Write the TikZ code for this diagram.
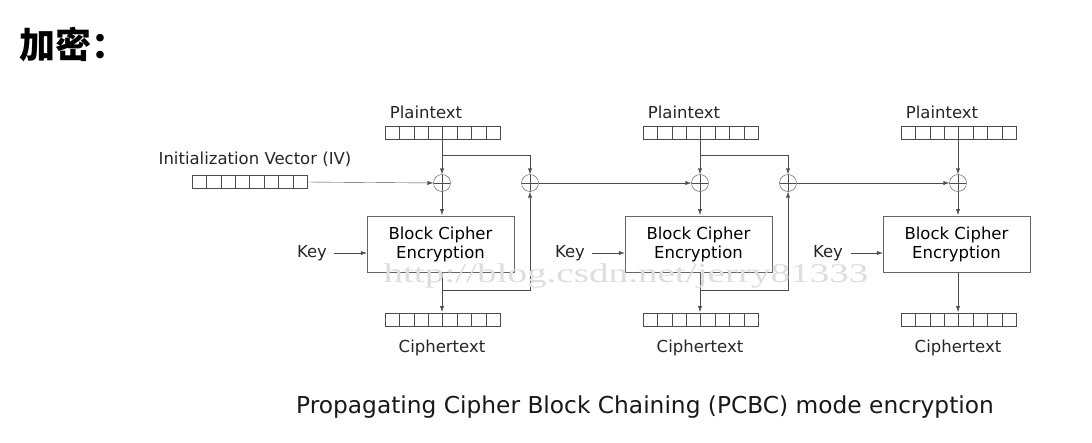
\documentclass[tikz,border=0pt]{standalone}
\usepackage{fontspec}
\setmainfont{DejaVu Sans}
\newfontfamily\cjk{Noto Sans CJK SC}
\newfontfamily\wm{Liberation Serif}
\usetikzlibrary{arrows.meta}
\begin{document}
\begin{tikzpicture}[x=1pt,y=-1pt,
  lbl/.style={font=\fontsize{16.5}{18}\selectfont, text=black!85},
  enc/.style={draw=black!60, minimum width=147pt, minimum height=56pt, align=center, font=\fontsize{16.5}{19}\selectfont, inner sep=0pt},
  xor/.style={circle, draw=black!70, minimum size=17pt, inner sep=0pt, path picture={\draw[black!70] (path picture bounding box.north)--(path picture bounding box.south) (path picture bounding box.west)--(path picture bounding box.east);}},
  ar/.style={draw=black!70, -{Latex[length=6pt,width=4pt]}},
  ln/.style={draw=black!70}]
\useasboundingbox (0,0) rectangle (1092,442);
\fill[white] (0,0) rectangle (1092,442);
\newcommand{\cells}[3]{\foreach \i in {0,...,7}{\draw[black!70] (#1+\i*14.4,#2-6.5) rectangle ++(14.4,13);}\coordinate (#3) at (#1+57.6,#2);}
\node[font=\cjk\bfseries\fontsize{36}{38}\selectfont, anchor=west] (title) at (16,45) {加密：};
\node[font=\fontsize{23.3}{25}\selectfont, text=black!90] (cap) at (645,407) {Propagating Cipher Block Chaining (PCBC) mode encryption};
\node[lbl] (ivl) at (255,159) {Initialization Vector (IV)};
\cells{192}{182}{iv}
\foreach \k/\X in {1/442,2/700,3/958}{
  \node[lbl] (pl\k) at (\X-16,112) {Plaintext};
  \cells{\X-57}{133}{pb\k}
  \node[xor] (x\k) at (\X,183) {};
  \node[enc] (e\k) at (\X-1.5,244) {Block Cipher\\Encryption};
  \cells{\X-57}{320}{cb\k}
  \node[lbl] (cl\k) at (\X,348) {Ciphertext};
  \node[lbl] (k\k) at (\X-130,253) {Key};
  \draw[ar] ([xshift=4pt]k\k.east) -- (e\k.west |- k\k.east);
  \draw[ar] (\X,140) -- (x\k.north);
  \draw[ar] (x\k.south) -- (\X,215);
  \draw[ar] (\X,273) -- (\X,312);
}
\foreach \k/\X in {1/530,2/788}{
  \node[xor] (y\k) at (\X,183) {};
}
\draw[ar] (307,182) -- (x1.west);
\foreach \k/\X/\P in {1/530/442,2/788/700}{
  \draw[ar] (\P,155) -- (\X,155) -- (y\k.north);
  \draw[ar] (\P,290) -- (\X,290) -- (y\k.south);
}
\draw[ar] (y1.east) -- (x2.west);
\draw[ar] (y2.east) -- (x3.west);
\node[font=\wm\fontsize{27}{28}\selectfont, text=black!13, xscale=1.45] (wm) at (626,276) {http://blog.csdn.net/jerry81333};
\end{tikzpicture}
\end{document}
